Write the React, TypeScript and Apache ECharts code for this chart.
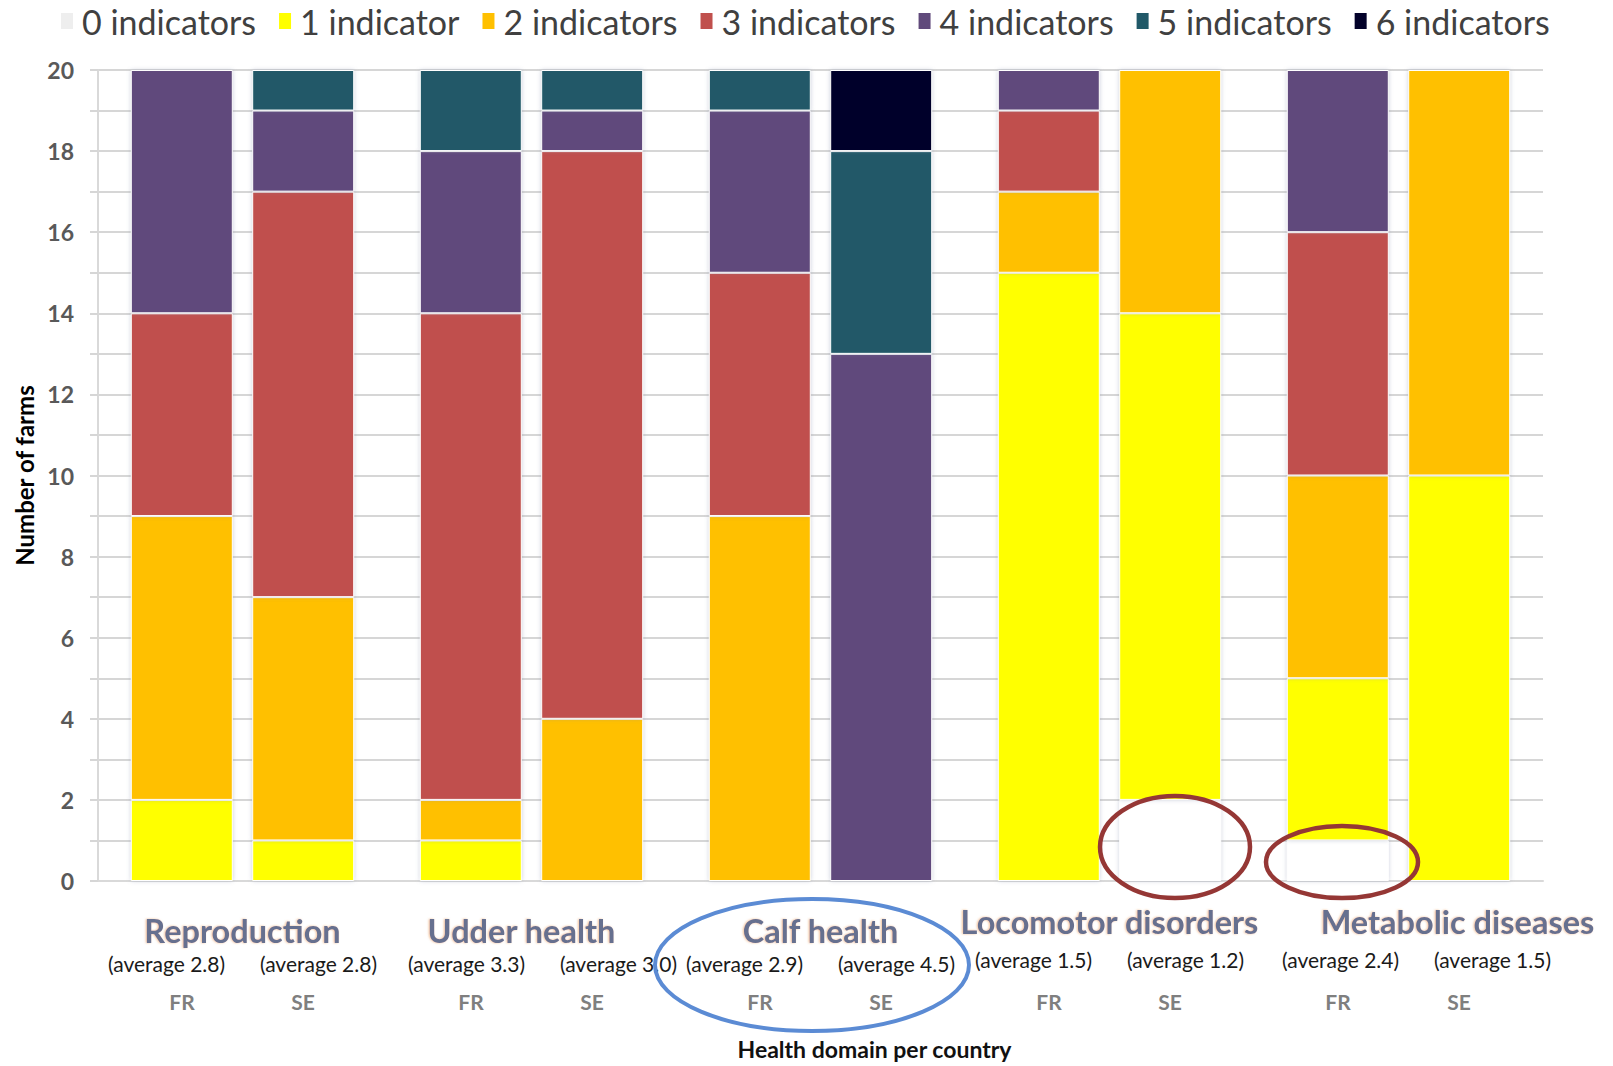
import React, { useEffect, useRef } from 'react';
import * as echarts from 'echarts';

// ---------- data ----------
const domains = ['Reproduction', 'Udder health', 'Calf health', 'Locomotor disorders', 'Metabolic diseases'];
const countries = ['FR', 'SE'];
const indicatorNames = ['0 indicators', '1 indicator', '2 indicators', '3 indicators', '4 indicators', '5 indicators', '6 indicators'];
const indicatorColors = ['#ffffff', '#ffff00', '#ffc000', '#c0504d', '#604a7b', '#215968', '#03022a'];

// number of farms per indicator count (rows: 0..6 indicators, cols: domains) — France
const frCounts = [
  [0, 0, 0, 0, 1],
  [2, 1, 0, 15, 4],
  [7, 1, 9, 2, 5],
  [5, 12, 6, 2, 6],
  [6, 4, 4, 1, 4],
  [0, 2, 1, 0, 0],
  [0, 0, 0, 0, 0],
];
// Sweden
const seCounts = [
  [0, 0, 0, 2, 0],
  [1, 0, 0, 12, 10],
  [6, 4, 0, 6, 10],
  [10, 14, 0, 0, 0],
  [2, 1, 13, 0, 0],
  [1, 1, 5, 0, 0],
  [0, 0, 2, 0, 0],
];
const averagesFR = ['2.8', '3.3', '2.9', '1.5', '2.4'];
const averagesSE = ['2.8', '3.0', '4.5', '1.2', '1.5'];
const yAxisMax = 20;
const yLabelStep = 2;

// ---------- layout tweaks (label offsets in px) ----------
const titleShift = [0, -10, 0, 0, 59];
const avgShift = [0, 11, 0, 0, 18];
const raisedTitle = [false, false, false, true, true];

const FONT = 'Lato, "Open Sans", sans-serif';

function buildRich() {
  const titleBase = {
    fontSize: 32.5, fontWeight: 'bold', color: '#66708f', align: 'center',
    textShadowColor: 'rgba(230,140,60,0.55)', textShadowBlur: 2, textShadowOffsetX: -1, textShadowOffsetY: 0,
  };
  const rich: Record<string, any> = {
    t: { ...titleBase, lineHeight: 36 },
    t2: { ...titleBase, lineHeight: 18 },
    a: { fontSize: 21, color: '#1a1a1a', width: 152, lineHeight: 30, align: 'center' },
    a2: { fontSize: 21, color: '#1a1a1a', width: 152, lineHeight: 58, align: 'center' },
    c: { fontSize: 21, fontWeight: 'bold', color: '#7f7f7f', width: 121, lineHeight: 46, align: 'center' },
    c2: { fontSize: 21, fontWeight: 'bold', color: '#7f7f7f', width: 121, lineHeight: 26, align: 'center' },
  };
  domains.forEach((_, i) => {
    rich['ts' + i] = { width: Math.max(1, Math.abs(titleShift[i]) * 2), lineHeight: 4, fontSize: 4, align: 'center' };
    rich['as' + i] = { width: Math.max(1, Math.abs(avgShift[i]) * 2), lineHeight: 4, fontSize: 4, align: 'center' };
  });
  return rich;
}

function formatLabel(value: string, idx: number) {
  const i = domains.indexOf(value) >= 0 ? domains.indexOf(value) : idx;
  const ts = titleShift[i];
  const as = avgShift[i];
  const tStyle = raisedTitle[i] ? 't2' : 't';
  const aStyle = raisedTitle[i] ? 'a2' : 'a';
  const cStyle = raisedTitle[i] ? 'c2' : 'c';
  const tl = (ts > 0 ? `{ts${i}| }` : '') + `{${tStyle}|${domains[i]}}` + (ts < 0 ? `{ts${i}| }` : '');
  const al = (as > 0 ? `{as${i}| }` : '') + `{${aStyle}|(average ${averagesFR[i]})}{${aStyle}|(average ${averagesSE[i]})}` + (as < 0 ? `{as${i}| }` : '');
  const cl = countries.map((c) => `{${cStyle}|${c}}`).join('');
  return [tl, al, cl].join('\n');
}

export default function App() {
  const ref = useRef<HTMLDivElement>(null);

  useEffect(() => {
    if (!ref.current) return;
    const chart = echarts.init(ref.current, undefined, { renderer: 'svg' });

    const series: any[] = [];
    indicatorNames.forEach((name, k) => {
      [frCounts, seCounts].forEach((counts, c) => {
        series.push({
          type: 'bar',
          name,
          stack: countries[c],
          barWidth: 102,
          barGap: '19%',
          data: counts[k].map((v) => (v === 0 ? null : v)),
          itemStyle: {
            color: indicatorColors[k],
            borderColor: '#ffffff',
            borderWidth: 1,
            shadowBlur: 4,
            shadowColor: 'rgba(130,140,170,0.4)',
          },
          emphasis: { disabled: true },
        });
      });
    });

    chart.setOption({
      animation: false,
      backgroundColor: '#ffffff',
      textStyle: { fontFamily: FONT },
      legend: {
        top: -4,
        left: 56,
        icon: 'rect',
        itemWidth: 12,
        itemHeight: 16,
        itemGap: 23,
        itemStyle: { borderWidth: 0, shadowBlur: 0 },
        textStyle: { fontSize: 34, color: '#404040', lineHeight: 40, padding: [0, 0, 0, 4], fontFamily: FONT },
        data: indicatorNames.map((n, k) => (k === 0 ? { name: n, itemStyle: { color: '#eeeeee' } } : n)),
      },
      grid: { left: 98, right: 70, top: 70, bottom: 185, containLabel: false },
      xAxis: {
        type: 'category',
        data: domains,
        axisTick: { show: false },
        axisLine: { show: true, lineStyle: { color: '#d9d9d9', width: 2 } },
        axisLabel: {
          interval: 0,
          margin: 31,
          formatter: formatLabel,
          rich: buildRich(),
          fontFamily: FONT,
        },
        name: 'Health domain per country',
        nameLocation: 'middle',
        nameGap: 156,
        nameTextStyle: { fontSize: 23, fontWeight: 'bold', color: '#111', padding: [0, 0, 0, 108], fontFamily: FONT },
        splitLine: { show: false },
      },
      yAxis: {
        type: 'value',
        min: 0,
        max: yAxisMax,
        interval: 1,
        axisLine: { show: true, lineStyle: { color: '#d9d9d9', width: 2 } },
        axisTick: { show: true, length: 8, lineStyle: { color: '#d6d6d6', width: 2 } },
        axisLabel: {
          margin: 24,
          fontSize: 23,
          fontWeight: 'bold',
          color: '#595959',
          fontFamily: FONT,
          formatter: (v: number) => (v % yLabelStep === 0 ? String(v) : ''),
        },
        splitLine: { show: true, lineStyle: { color: '#d6d6d6', width: 2 } },
        name: 'Number of farms',
        nameLocation: 'middle',
        nameGap: 62,
        nameTextStyle: { fontSize: 24, fontWeight: 'bold', color: '#000', fontFamily: FONT },
      },
      graphic: [
        {
          type: 'ellipse',
          z: 100,
          shape: { cx: 812, cy: 965, rx: 157, ry: 66 },
          style: { fill: 'none', stroke: '#5b8bd4', lineWidth: 4 },
        },
        {
          type: 'ellipse',
          z: 100,
          shape: { cx: 1175, cy: 847, rx: 75, ry: 51 },
          style: { fill: 'none', stroke: '#953735', lineWidth: 4.5 },
        },
        {
          type: 'ellipse',
          z: 100,
          shape: { cx: 1342, cy: 862, rx: 76, ry: 36 },
          style: { fill: 'none', stroke: '#953735', lineWidth: 4.5 },
        },
      ],
      series,
    });

    return () => chart.dispose();
  }, []);

  return <div ref={ref} style={{ position: 'absolute', left: 0, top: 0, width: 1613, height: 1066 }} />;
}
